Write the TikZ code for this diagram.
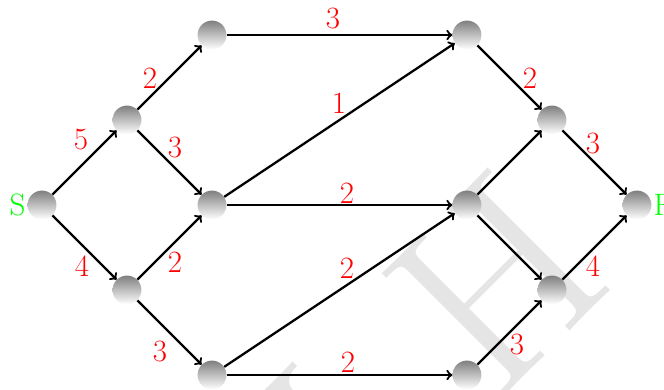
\documentclass[tikz,border=0pt]{standalone}
\begin{document}
\begin{tikzpicture}[x=2cm,y=2cm,
  ball/.style={circle, minimum size=0.68cm, inner sep=0pt, top color=gray, bottom color=white, draw=none},
  conn/.style={->, line width=1.5pt},
  wt/.style={red, font=\huge, inner sep=0pt},
  term/.style={green, font=\huge, inner sep=1pt},
  wmark/.style={gray!20, rotate=45, font=\fontsize{170}{170}\selectfont, inner sep=0pt}]
\useasboundingbox (-0.494,-2.165) rectangle (7.318,2.412);
% watermark
\node[wmark] (wmH) at (5.341,-0.906) {H};
\node[wmark] (wmN) at (3.047,-3.188) {N};
% nodes
\node[ball] (S) at (0,0) {};
\node[ball] (A) at (1,1) {};
\node[ball] (B) at (1,-1) {};
\node[ball] (C) at (2,2) {};
\node[ball] (D) at (2,0) {};
\node[ball] (E) at (2,-2) {};
\node[ball] (G) at (5,2) {};
\node[ball] (H) at (5,0) {};
\node[ball] (I) at (5,-2) {};
\node[ball] (J) at (6,1) {};
\node[ball] (K) at (6,-1) {};
\node[ball] (F) at (7,0) {};
\node[term, anchor=east] (Slab) at (S.west) {S};
\node[term, anchor=west] (Flab) at (F.east) {F};
% connectors
\draw[conn] (S) -- (A) node[wt] (w1) at (0.459,0.765) {5};
\draw[conn] (S) -- (B) node[wt] (w2) at (0.471,-0.718) {4};
\draw[conn] (A) -- (C) node[wt] (w3) at (1.271,1.494) {2};
\draw[conn] (A) -- (D) node[wt] (w4) at (1.565,0.671) {3};
\draw[conn] (B) -- (D) node[wt] (w5) at (1.565,-0.671) {2};
\draw[conn] (B) -- (E) node[wt] (w6) at (1.388,-1.729) {3};
\draw[conn] (C) -- (G) node[wt] (w7) at (3.424,2.194) {3};
\draw[conn] (D) -- (G) node[wt] (w8) at (3.494,1.2) {1};
\draw[conn] (D) -- (H) node[wt] (w9) at (3.588,0.141) {2};
\draw[conn] (E) -- (H) node[wt] (w10) at (3.588,-0.741) {2};
\draw[conn] (E) -- (I) node[wt] (w11) at (3.6,-1.847) {2};
\draw[conn] (G) -- (J) node[wt] (w12) at (5.741,1.494) {2};
\draw[conn] (H) -- (J);
\draw[conn] (H) -- (K);
\draw[conn] (I) -- (K) node[wt] (w13) at (5.588,-1.647) {3};
\draw[conn] (J) -- (F) node[wt] (w14) at (6.482,0.729) {3};
\draw[conn] (K) -- (F) node[wt] (w15) at (6.482,-0.718) {4};
\end{tikzpicture}
\end{document}
